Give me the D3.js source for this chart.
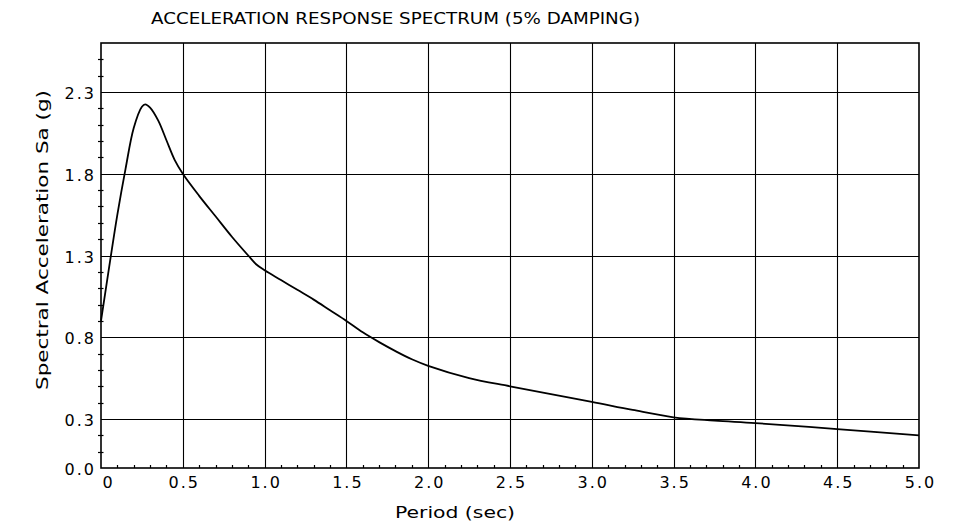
<!DOCTYPE html>
<html><head><meta charset="utf-8">
<script src="https://cdn.jsdelivr.net/npm/d3@7"></script>
<style>
body{margin:0;background:#fff}
svg{display:block}
text{font-family:"DejaVu Sans",sans-serif;fill:#000}
</style>
</head><body><svg id="c" width="964" height="529"></svg>
<script>
// ---- data ----
const periods = [0, 0.05, 0.1, 0.15, 0.2, 0.25, 0.27, 0.3, 0.35, 0.4, 0.45, 0.5, 0.6, 0.7, 0.8, 0.9, 0.95, 1.0, 1.1, 1.2, 1.3, 1.4, 1.5, 1.6, 1.7, 1.8, 1.9, 2.0, 2.25, 2.5, 2.75, 3.0, 3.25, 3.5, 3.75, 4.0, 4.5, 5.0];
const spectralAcc = [0.90, 1.23, 1.55, 1.83, 2.08, 2.21, 2.225, 2.205, 2.125, 2.005, 1.885, 1.80, 1.665, 1.54, 1.415, 1.30, 1.245, 1.21, 1.15, 1.09, 1.03, 0.965, 0.90, 0.83, 0.77, 0.715, 0.665, 0.625, 0.55, 0.50, 0.452, 0.405, 0.355, 0.31, 0.29, 0.275, 0.238, 0.20];
const xTickValues = [0, 0.5, 1.0, 1.5, 2.0, 2.5, 3.0, 3.5, 4.0, 4.5, 5.0];
const xTickLabels = ["0", "0.5", "1.0", "1.5", "2.0", "2.5", "3.0", "3.5", "4.0", "4.5", "5.0"];
const yTickValues = [0, 0.3, 0.8, 1.3, 1.8, 2.3];
const yTickLabels = ["0.0", "0.3", "0.8", "1.3", "1.8", "2.3"];
const xGridValues = [0.5, 1.0, 1.5, 2.0, 2.5, 3.0, 3.5, 4.0, 4.5];
const yGridValues = [0.3, 0.8, 1.3, 1.8, 2.3];
const xDomain = [0, 5];
const yDomain = [0, 2.6];
const titleText = "ACCELERATION RESPONSE SPECTRUM (5% DAMPING)";
const xTitleText = "Period (sec)";
const yTitleText = "Spectral Acceleration Sa (g)";

// ---- layout ----
const L = 101, R = 919, T = 43, B = 468;
const svg = d3.select("#c");
const x = d3.scaleLinear().domain(xDomain).range([L, R]);
const y = d3.scaleLinear().domain(yDomain).range([B, T]);

// grid
svg.append("g").selectAll("line").data(xGridValues).join("line")
  .attr("x1", d => Math.round(x(d)) + 0.5).attr("x2", d => Math.round(x(d)) + 0.5)
  .attr("y1", T).attr("y2", B).attr("stroke", "#000").attr("stroke-width", 1.1);
svg.append("g").selectAll("line").data(yGridValues).join("line")
  .attr("y1", d => Math.round(y(d)) + 0.5).attr("y2", d => Math.round(y(d)) + 0.5)
  .attr("x1", L).attr("x2", R).attr("stroke", "#000").attr("stroke-width", 1.1);

// minor ticks
const xMinor = d3.range(1, 50).map(i => i / 10).filter(v => Math.abs(v * 2 - Math.round(v * 2)) > 1e-6);
const yMinor = d3.range(1, 26).map(i => i / 10).filter(v => !yGridValues.some(g => Math.abs(g - v) < 1e-6));
svg.append("g").selectAll("line").data(xMinor).join("line")
  .attr("x1", d => Math.round(x(d)) + 0.5).attr("x2", d => Math.round(x(d)) + 0.5)
  .attr("y1", B).attr("y2", B - 3).attr("stroke", "#000").attr("stroke-width", 1.2);
svg.append("g").selectAll("line").data(yMinor).join("line")
  .attr("y1", d => Math.round(y(d)) + 0.5).attr("y2", d => Math.round(y(d)) + 0.5)
  .attr("x1", L - 3).attr("x2", L + 2.5).attr("stroke", "#000").attr("stroke-width", 1.2);

// frame
svg.append("rect").attr("x", L).attr("y", T).attr("width", R - L).attr("height", B - T)
  .attr("fill", "none").attr("stroke", "#000").attr("stroke-width", 1.6);

// curve
const line = d3.line().x((d, i) => x(periods[i])).y(d => y(d)).curve(d3.curveCatmullRom.alpha(0.5));
svg.append("path").datum(spectralAcc).attr("d", line)
  .attr("fill", "none").attr("stroke", "#000").attr("stroke-width", 1.8);

// axes labels via d3 axes
const xAxis = svg.append("g").attr("transform", `translate(0,${B})`)
  .call(d3.axisBottom(x).tickValues(xTickValues).tickFormat((d, i) => xTickLabels[i]).tickSize(0).tickPadding(9));
xAxis.select(".domain").remove();
xAxis.selectAll("text").style("font-size", "16px").style("letter-spacing", "2px")
  .attr("font-family", null).attr("dx", "1px");
xAxis.selectAll("text").filter((d, i) => i === 0).attr("text-anchor", "start").attr("dx", "1px");

const yAxis = svg.append("g").attr("transform", `translate(${L},0)`)
  .call(d3.axisLeft(y).tickValues(yTickValues).tickFormat((d, i) => yTickLabels[i]).tickSize(0).tickPadding(5));
yAxis.select(".domain").remove();
yAxis.selectAll("text").style("font-size", "16px").style("letter-spacing", "2px").attr("font-family", null).attr("dy", "0.42em");

// titles
svg.append("text").attr("x", 151).attr("y", 24).style("font-size", "16px")
  .attr("textLength", 489).attr("lengthAdjust", "spacingAndGlyphs").text(titleText);
svg.append("text").attr("x", 395).attr("y", 518).style("font-size", "16px")
  .attr("textLength", 120).attr("lengthAdjust", "spacingAndGlyphs").text(xTitleText);
svg.append("text").attr("transform", "translate(48,390) rotate(-90)").style("font-size", "16px")
  .attr("textLength", 300).attr("lengthAdjust", "spacingAndGlyphs").text(yTitleText);
</script>
</body></html>
